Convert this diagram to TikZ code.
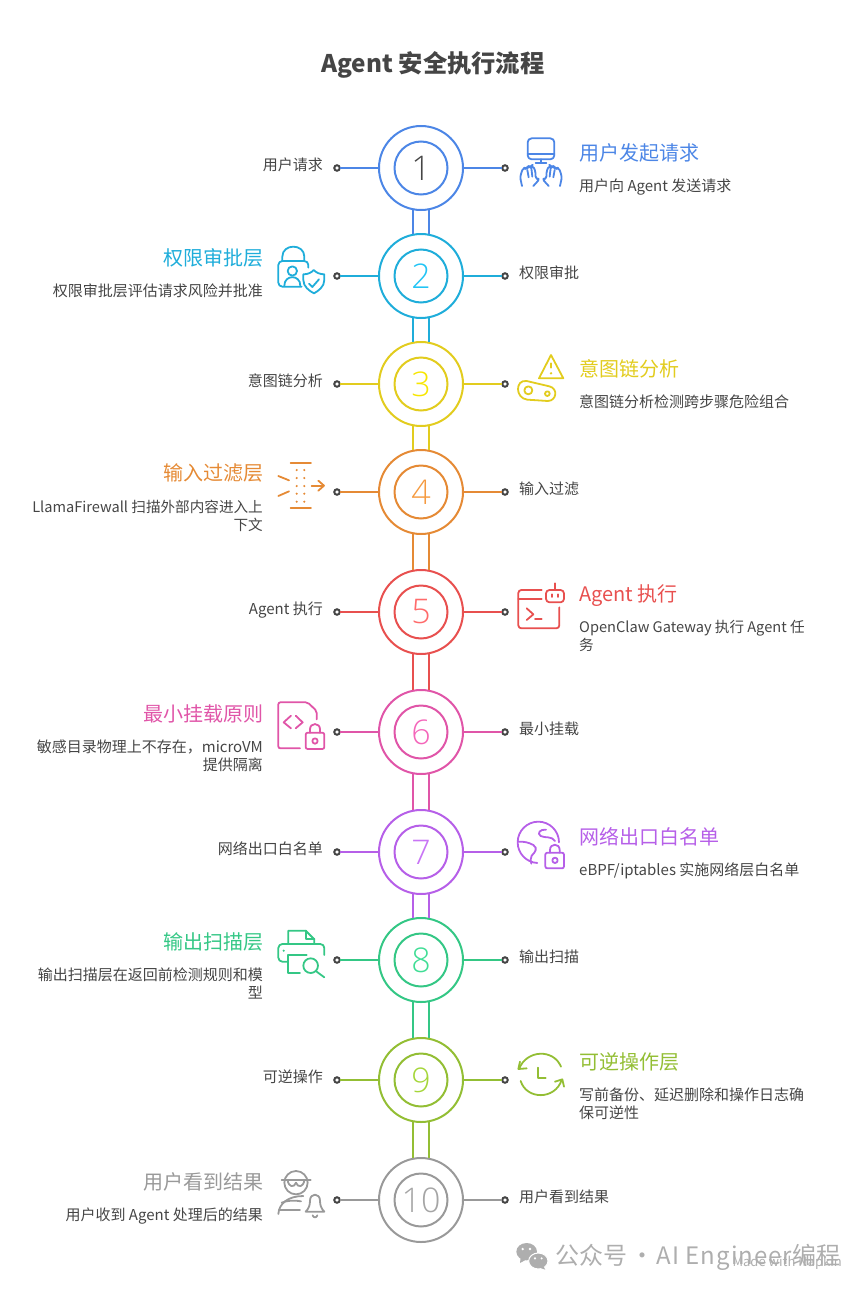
\documentclass[tikz,border=0pt]{standalone}
\usepackage{fontspec}
\setmainfont{Noto Sans CJK SC}
\newfontfamily\numfont{Open Sans Light}
\usetikzlibrary{calc}
\definecolor{inkgray}{HTML}{454545}
\definecolor{markgray}{HTML}{AEAEAE}
\definecolor{ringa}{HTML}{4C86E6}
\definecolor{ringb}{HTML}{1FADDA}
\definecolor{ringc}{HTML}{E2CC1E}
\definecolor{ringd}{HTML}{E58A35}
\definecolor{ringe}{HTML}{E8504F}
\definecolor{ringf}{HTML}{E055A8}
\definecolor{ringg}{HTML}{B65FE8}
\definecolor{ringh}{HTML}{34C785}
\definecolor{ringi}{HTML}{93BE34}
\definecolor{ringj}{HTML}{999999}
\definecolor{numb}{HTML}{22C4F5}
\definecolor{numc}{HTML}{F7E600}
\definecolor{numd}{HTML}{F59A40}
\definecolor{nume}{HTML}{FF6B6B}
\definecolor{numf}{HTML}{F466BA}
\definecolor{numg}{HTML}{C875F5}
\definecolor{numh}{HTML}{40DD95}
\definecolor{numi}{HTML}{A5D63A}
\definecolor{numj}{HTML}{A5A5A5}
\tikzset{
	outring/.style={circle,line width=2pt,minimum size=84pt,inner sep=0,outer sep=0},
	inring/.style={circle,line width=2pt,minimum size=53pt,inner sep=0,outer sep=0,font=\numfont\fontsize{34}{34}\selectfont},
	dotend/.style={circle,draw=inkgray,fill=white,line width=2pt,minimum size=5.5pt,inner sep=0,outer sep=0},
	spoke/.style={line width=2pt},
	band/.style={line width=2pt},
	headl/.style={anchor=east,inner sep=0,align=right,font=\fontsize{20}{24}\selectfont,execute at begin node=\strut},
	headr/.style={anchor=west,inner sep=0,align=left,font=\fontsize{20}{24}\selectfont,execute at begin node=\strut},
	subl/.style={anchor=east,inner sep=0,align=right,text=inkgray,font=\fontsize{15}{18}\selectfont,execute at begin node=\strut,execute at end node=\strut},
	subr/.style={anchor=west,inner sep=0,align=left,text=inkgray,font=\fontsize{15}{18}\selectfont,execute at begin node=\strut,execute at end node=\strut},
	tight/.style={font=\fontsize{14.6}{18}\selectfont},
	icon/.style={x=0.3333pt,y=-0.3333pt,line width=1.8pt,line cap=round,line join=round},
}
\def\stepring[#1][#2](#3)#4{
	\node[outring,draw=#1] (out#4) at (421,#3) {};
	\node[inring,draw=#1,text=#2] (in#4) at (421,#3) {#4};
	\node[dotend] (dotl#4) at (337,#3) {};
	\node[dotend] (dotr#4) at (505,#3) {};
	\draw[spoke,draw=#1] (out#4) -- (dotl#4);
	\draw[spoke,draw=#1] (out#4) -- (dotr#4);
}
\def\stepband[#1](#2)(#3){
	\draw[band,draw=#1] ([xshift=-8pt]out#2.south) -- ([xshift=-8pt]out#3.north);
	\draw[band,draw=#1] ([xshift=8pt]out#2.south) -- ([xshift=8pt]out#3.north);
}
\begin{document}
\begin{tikzpicture}[x=1pt,y=-1pt]
		%%%%% START %%%%%
		\useasboundingbox (0,0) rectangle (866,1290);
		
		\node[inner sep=0,text=inkgray,font=\bfseries\fontsize{24.3}{30}\selectfont] (title) at (433,65) {Agent 安全执行流程};
		
		\stepring[ringa][inkgray](168){1}
		\stepring[ringb][numb](276){2}
		\stepring[ringc][numc](384){3}
		\stepring[ringd][numd](492){4}
		\stepring[ringe][nume](612){5}
		\stepring[ringf][numf](732){6}
		\stepring[ringg][numg](852){7}
		\stepring[ringh][numh](960){8}
		\stepring[ringi][numi](1080){9}
		\stepring[ringj][numj](1200){10}
		
		\stepband[ringa](1)(2)
		\stepband[ringb](2)(3)
		\stepband[ringc](3)(4)
		\stepband[ringd](4)(5)
		\stepband[ringe](5)(6)
		\stepband[ringf](6)(7)
		\stepband[ringg](7)(8)
		\stepband[ringh](8)(9)
		\stepband[ringi](9)(10)
		
		%%%%% TEXT %%%%%
		\node[subl] (tag1) at (323,167) {用户请求};
		\node[headr,text=ringa] (head1) at (579,156) {用户发起请求};
		\node[subr] (sub1) at (579,188) {用户向 Agent 发送请求};
		
		\node[subr] (tag2) at (519,275) {权限审批};
		\node[headl,text=ringb] (head2) at (264,261) {权限审批层};
		\node[subl] (sub2) at (263,293) {权限审批层评估请求风险并批准};
		
		\node[subl] (tag3) at (323,383) {意图链分析};
		\node[headr,text=ringc] (head3) at (579,372) {意图链分析};
		\node[subr] (sub3) at (579,404) {意图链分析检测跨步骤危险组合};
		
		\node[subr] (tag4) at (519,491) {输入过滤};
		\node[headl,text=ringd] (head4) at (264,476) {输入过滤层};
		\node[subl,tight] (sub4) at (263,518) {LlamaFirewall 扫描外部内容进入上\\下文};
		
		\node[subl] (tag5) at (323,611) {Agent 执行};
		\node[headr,text=ringe] (head5) at (579,597) {Agent 执行};
		\node[subr,tight] (sub5) at (579,638) {OpenClaw Gateway 执行 Agent 任\\务};
		
		\node[subr] (tag6) at (519,731) {最小挂载};
		\node[headl,text=ringf] (head6) at (264,717) {最小挂载原则};
		\node[subl] (sub6) at (263,758) {敏感目录物理上不存在，microVM\\提供隔离};
		
		\node[subl] (tag7) at (323,851) {网络出口白名单};
		\node[headr,text=ringg] (head7) at (579,840) {网络出口白名单};
		\node[subr] (sub7) at (579,872) {eBPF/iptables 实施网络层白名单};
		
		\node[subr] (tag8) at (519,959) {输出扫描};
		\node[headl,text=ringh] (head8) at (264,945) {输出扫描层};
		\node[subl] (sub8) at (263,986) {输出扫描层在返回前检测规则和模\\型};
		
		\node[subl] (tag9) at (323,1079) {可逆操作};
		\node[headr,text=ringi] (head9) at (579,1065) {可逆操作层};
		\node[subr] (sub9) at (579,1106) {写前备份、延迟删除和操作日志确\\保可逆性};
		
		\node[subr] (tag10) at (519,1199) {用户看到结果};
		\node[headl,text=ringj] (head10) at (264,1185) {用户看到结果};
		\node[subl] (sub10) at (263,1217) {用户收到 Agent 处理后的结果};
		
		%%%%% ICONS %%%%%
		\begin{scope}[shift={(500,120)},icon,draw=ringa]
			\draw[rounded corners=4pt] (83,55) rectangle (163,118);
			\draw (83,103) -- (163,103);
			\draw (123,118) -- (123,128);
			\draw (107,128) -- (139,128);
			\draw[rounded corners=3pt] (66,198) -- (60,170) -- (70,142) -- (80,148) -- (84,138) -- (93,142) -- (97,136) -- (106,150) -- (107,178) -- (120,176) -- (100,198);
			\draw[rounded corners=3pt] (180,198) -- (186,170) -- (176,142) -- (166,148) -- (162,138) -- (153,142) -- (149,136) -- (140,150) -- (139,178) -- (126,176) -- (146,198);
			\draw (82,150) -- (86,172);
			\draw (94,144) -- (97,170);
			\draw (164,150) -- (160,172);
			\draw (152,144) -- (149,170);
		\end{scope}
		
		\begin{scope}[shift={(265,235)},icon,draw=ringb]
			\draw[rounded corners=4pt] (110,155) -- (40,155) -- (40,78) -- (130,78) -- (130,98);
			\draw (52,78) -- (52,65) .. controls (52,25) and (118,25) .. (118,65) -- (118,78);
			\draw (82,108) circle (14);
			\draw (58,152) .. controls (58,118) and (106,118) .. (106,152);
			\draw (115,118) .. controls (130,118) and (140,112) .. (146,105) .. controls (153,112) and (163,118) .. (178,118) -- (178,135) .. controls (178,155) and (160,168) .. (147,175) .. controls (133,168) and (115,155) .. (115,135) -- cycle;
			\draw (132,146) -- (142,156) -- (162,133);
		\end{scope}
		
		\begin{scope}[shift={(500,345)},icon,draw=ringc,fill=ringc]
			\draw[fill=none] (153,30) -- (190,100) -- (117,100) -- cycle;
			\draw (153,55) -- (153,68);
			\fill (153,85) circle (4);
			\draw[fill=none] (80,108) -- (148,124) .. controls (175,130) and (170,168) .. (143,168) -- (82,164) .. controls (45,160) and (45,103) .. (80,108) -- cycle;
			\draw[fill=none] (85,136) circle (12);
			\draw[fill=none] (142,146) circle (7);
		\end{scope}
		
		\begin{scope}[shift={(265,450)},icon,draw=ringd,fill=ringd]
			\draw (77,40) -- (138,40);
			\draw (77,175) -- (138,175);
			\foreach \doty in {60,84,108,131,155} {
				\fill (95,\doty) circle (3.5);
				\fill (118,\doty) circle (3.5);
			}
			\draw (40,78) -- (72,91);
			\draw (40,138) -- (72,124);
			\draw (140,107) -- (175,107);
			\draw (160,92) -- (177,107) -- (160,122);
		\end{scope}
		
		\begin{scope}[shift={(500,575)},icon,draw=ringe]
			\draw[rounded corners=3pt] (125,45) -- (55,45) -- (55,160) -- (178,160) -- (178,97);
			\draw (55,73) -- (125,73);
			\draw (80,100) -- (100,118) -- (80,135);
			\draw (105,133) -- (125,133);
			\draw[rounded corners=3.5pt] (138,45) rectangle (192,82);
			\draw (165,25) -- (165,45);
			\draw (155,58) -- (155,66);
			\draw (174,58) -- (174,66);
		\end{scope}
		
		\begin{scope}[shift={(265,695)},icon,draw=ringf]
			\draw[rounded corners=2pt] (105,160) -- (40,160) -- (40,22) -- (128,22) -- (155,48) -- (155,73);
			\draw (78,62) -- (56,82) -- (78,100);
			\draw (92,62) -- (113,82) -- (92,100);
			\draw[rounded corners=2pt] (122,113) rectangle (178,162);
			\draw (135,113) -- (135,103) .. controls (135,82) and (165,82) .. (165,103) -- (165,113);
			\draw (150,138) circle (8);
		\end{scope}
		
		\begin{scope}[shift={(500,815)},icon,draw=ringg]
			\draw (177,82) arc (0:-267:62);
			\draw (56,80) .. controls (75,80) and (85,82) .. (100,90) .. controls (115,100) and (105,112) .. (95,122) .. controls (90,130) and (92,138) .. (94,146);
			\draw (138,44) .. controls (120,42) and (110,55) .. (122,63) .. controls (135,70) and (155,62) .. (165,78);
			\draw[rounded corners=2pt] (136,113) rectangle (192,160);
			\draw (150,113) -- (150,105) .. controls (150,84) and (179,84) .. (179,105) -- (179,113);
			\draw (165,136) circle (8);
		\end{scope}
		
		\begin{scope}[shift={(265,920)},icon,draw=ringh,fill=ringh]
			\draw (70,70) -- (70,32) -- (122,32) -- (148,58) -- (148,70);
			\draw (122,32) -- (122,58) -- (148,58);
			\draw[rounded corners=4pt] (68,125) -- (40,125) -- (40,72) -- (178,72) -- (178,105);
			\fill (56,92) circle (3.5);
			\draw (125,105) -- (70,105) -- (70,158) -- (105,158);
			\draw[fill=none] (137,137) circle (22);
			\draw (155,155) -- (178,172);
		\end{scope}
		
		\begin{scope}[shift={(500,1045)},icon,draw=ringi]
			\draw (183,65) .. controls (160,10) and (80,15) .. (58,70);
			\draw (60,50) -- (55,72) -- (80,70);
			\draw (62,108) .. controls (80,165) and (165,165) .. (185,105);
			\draw (165,110) -- (187,103) -- (192,125);
			\draw (113,68) -- (113,100) -- (137,100);
		\end{scope}
		
		\begin{scope}[shift={(265,1160)},icon,draw=ringj]
			\draw (93,68) circle (35);
			\draw (50,60) -- (137,60);
			\draw (68,60) .. controls (70,82) and (88,84) .. (93,68) .. controls (98,84) and (116,82) .. (118,60);
			\draw (40,162) .. controls (42,130) and (70,108) .. (115,108);
			\draw (50,128) .. controls (65,122) and (85,120) .. (108,124);
			\draw (42,150) -- (105,150);
			\draw (122,155) .. controls (132,145) and (135,135) .. (135,122) .. controls (135,98) and (165,98) .. (165,122) .. controls (165,135) and (168,145) .. (178,155) -- cycle;
			\draw (143,166) .. controls (145,174) and (155,174) .. (157,166);
		\end{scope}
		
		%%%%% MARK %%%%%
		\begin{scope}[shift={(500,1225)},x=0.3333pt,y=-0.3333pt]
			\fill[markgray] (80,80) ellipse (31 and 26);
			\fill[markgray] (62,96) -- (60,114) -- (82,102) -- cycle;
			\draw[fill=markgray,draw=white,line width=1pt] (115,108) ellipse (29 and 24);
			\fill[markgray] (130,124) -- (136,134) -- (118,128) -- cycle;
			\fill[white] (68,72) circle (4);
			\fill[white] (90,72) circle (4);
			\fill[white] (105,100) circle (3.5);
			\fill[white] (125,100) circle (3.5);
		\end{scope}
		\node[inner sep=0,anchor=west,text=markgray,font=\fontsize{24}{28}\selectfont] (markname) at (555,1257) {公众号\hspace{-2pt} ·\hspace{-3pt} {\addfontfeature{LetterSpace=4}AI Engineer}编程};
		\node[inner sep=0,anchor=east,text=markgray,font=\fontsize{13}{15}\selectfont] (madeby) at (842,1263) {Made with Napkin};
		
		%%%%% END %%%%%
	\end{tikzpicture}
\end{document}
